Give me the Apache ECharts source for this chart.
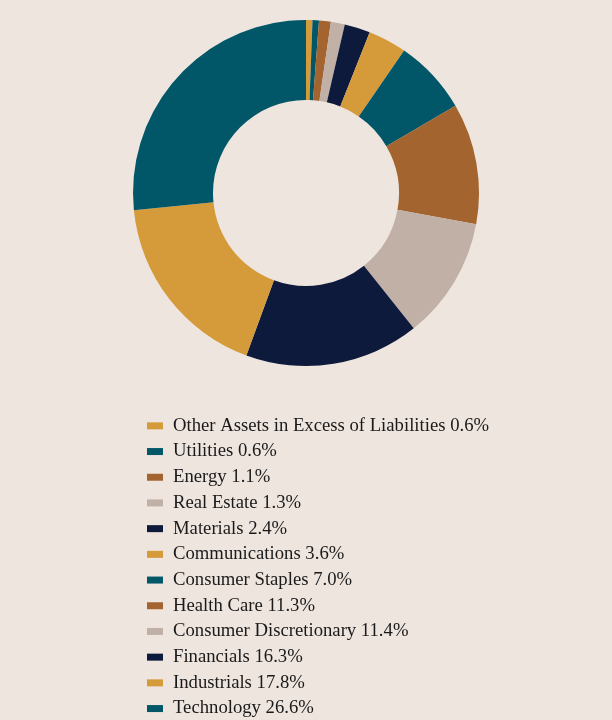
<!DOCTYPE html>
<html>
<head>
<meta charset="utf-8">
<script src="https://cdn.jsdelivr.net/npm/echarts@6/dist/echarts.min.js"></script>
<style>
  html, body { margin: 0; padding: 0; background: #EEE5DF; }
  #chart { width: 612px; height: 720px; }
</style>
</head>
<body>
<div id="chart"></div>
<script>
var sectors = [
  'Other Assets in Excess of Liabilities',
  'Utilities',
  'Energy',
  'Real Estate',
  'Materials',
  'Communications',
  'Consumer Staples',
  'Health Care',
  'Consumer Discretionary',
  'Financials',
  'Industrials',
  'Technology'
];
var weights = [0.6, 0.6, 1.1, 1.3, 2.4, 3.6, 7.0, 11.3, 11.4, 16.3, 17.8, 26.6];

var gold = '#D59B3B';
var teal = '#015768';
var brown = '#A3642F';
var taupe = '#C0B0A6';
var navy = '#0E1A3C';
var palette = [gold, teal, brown, taupe, navy];

var chart = echarts.init(document.getElementById('chart'));

var pieData = sectors.map(function(name, i) {
  return { name: name, value: weights[i] };
});

chart.setOption({
  backgroundColor: '#EEE5DF',
  color: palette,
  animation: false,
  legend: {
    orient: 'vertical',
    left: 147,
    top: 413,
    height: 320,
    padding: 0,
    icon: 'rect',
    itemWidth: 16,
    itemHeight: 7,
    itemGap: 0,
    textStyle: {
      fontFamily: 'Liberation Serif',
      fontSize: 18.7,
      color: '#1a1a1a',
      lineHeight: 25.7,
      padding: [0, 0, 0, 5]
    },
    formatter: function(name) {
      var i = sectors.indexOf(name);
      return name + ' ' + weights[i].toFixed(1) + '%';
    },
    data: sectors
  },
  series: [{
    type: 'pie',
    center: [306, 193],
    radius: [93, 173],
    startAngle: 90,
    clockwise: true,
    label: { show: false },
    labelLine: { show: false },
    itemStyle: { borderWidth: 0 },
    emphasis: { disabled: true },
    data: pieData
  }]
});
</script>
</body>
</html>
